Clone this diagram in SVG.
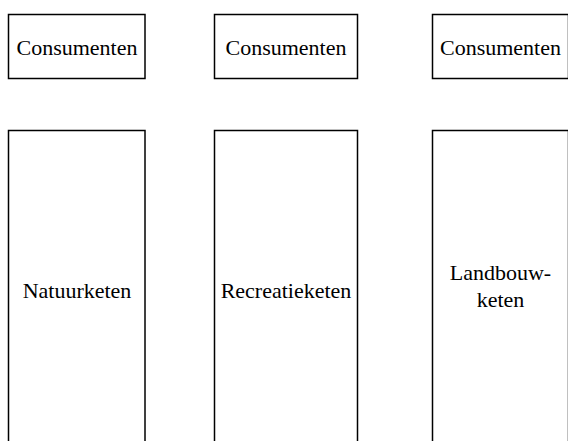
<svg xmlns="http://www.w3.org/2000/svg" width="568" height="441" viewBox="0 0 568 441">
  <style>
    .box { fill: #ffffff; stroke: #000000; stroke-width: 1.5; }
    .lbl { font-family: 'Liberation Serif', 'Times New Roman', Times, serif; font-size: 22px; fill: #000000; text-anchor: middle; }
  </style>
  <rect x="0" y="0" width="568" height="441" fill="#ffffff"/>

  <!-- consumer boxes -->
  <g id="consumenten-1">
    <rect class="box" x="8.5" y="14.5" width="136.5" height="64"/>
    <text class="lbl" x="77" y="55">Consumenten</text>
  </g>
  <g id="consumenten-2">
    <rect class="box" x="214.5" y="14.5" width="143" height="64"/>
    <text class="lbl" x="286" y="55">Consumenten</text>
  </g>
  <g id="consumenten-3">
    <rect class="box" x="432.5" y="14.5" width="136" height="64"/>
    <text class="lbl" x="500.5" y="55">Consumenten</text>
  </g>

  <!-- chain columns (run past the bottom edge) -->
  <g id="natuurketen">
    <rect class="box" x="8.5" y="130.5" width="136.5" height="330"/>
    <text class="lbl" x="77" y="298">Natuurketen</text>
  </g>
  <g id="recreatieketen">
    <rect class="box" x="214.5" y="130.5" width="143" height="330"/>
    <text class="lbl" x="286" y="298">Recreatieketen</text>
  </g>
  <g id="landbouwketen">
    <rect class="box" x="432.5" y="130.5" width="136" height="330"/>
    <text class="lbl" x="500.5" y="280">Landbouw-</text>
    <text class="lbl" x="500.5" y="307">keten</text>
  </g>

  <g id="connectors"></g>
</svg>
